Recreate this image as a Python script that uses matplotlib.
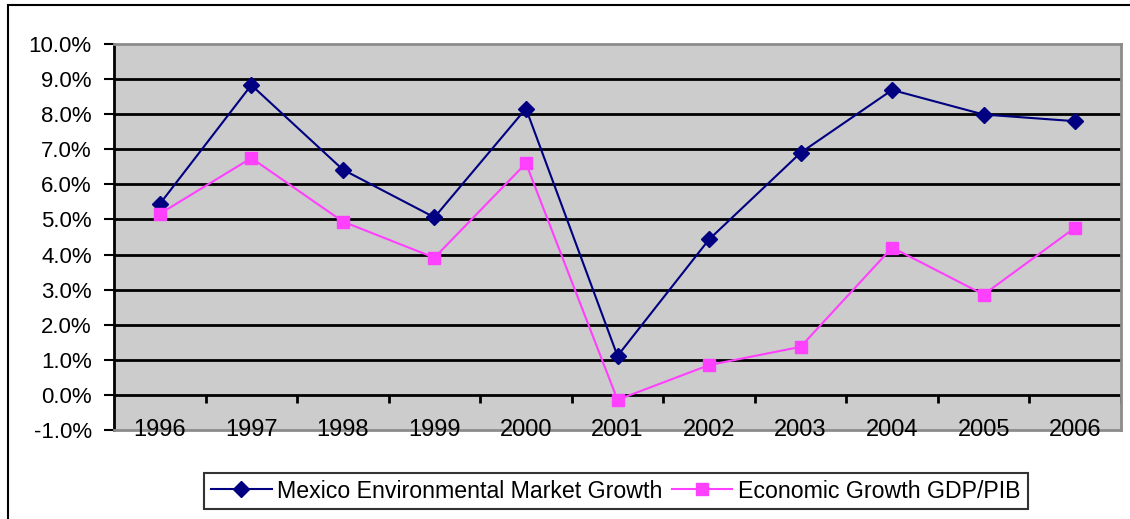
import matplotlib.pyplot as plt
from matplotlib.patches import Rectangle

plt.rcParams['font.family'] = ['Liberation Sans', 'DejaVu Sans']

years = ["1996", "1997", "1998", "1999", "2000", "2001",
         "2002", "2003", "2004", "2005", "2006"]
env_market = [5.44, 8.83, 6.42, 5.06, 8.16, 1.11, 4.43, 6.90, 8.69, 7.99, 7.80]
gdp_growth = [5.16, 6.75, 4.94, 3.91, 6.60, -0.14, 0.85, 1.37, 4.20, 2.86, 4.77]

fig = plt.figure(figsize=(11.3, 5.19), dpi=100)
fig.patches.append(Rectangle((8 / 1130, -0.1), 1.2, 1.1 - 5 / 519,
                             transform=fig.transFigure, fill=False,
                             edgecolor='black', linewidth=1.5))

ax = fig.add_axes([114 / 1130, 1 - 430 / 519, 1007 / 1130, 386 / 519])
ax.set_facecolor('#cccccc')

x = list(range(len(years)))
ax.set_xlim(-0.5, len(years) - 0.5)
ax.set_ylim(-1, 10)

# horizontal gridlines and the zero axis
for v in range(0, 10):
    ax.axhline(v, color='black', linewidth=2, zorder=1)

# category tick marks hanging under the zero line
bounds = [i + 0.5 for i in x[:-1]] + [len(years) - 0.5]
ax.vlines(bounds, -0.22, 0, color='black', linewidth=2, zorder=1)

ax.plot(x, env_market, color='#000080', marker='D', markersize=8,
        linewidth=1.5, label='Mexico Environmental Market Growth', zorder=3)
ax.plot(x, gdp_growth, color='#ff40ff', marker='s', markersize=9,
        linewidth=1.5, label='Economic Growth GDP/PIB', zorder=3)

for i, yr in enumerate(years):
    ax.text(i, -1, yr, ha='center', va='center', fontsize=17, zorder=4)

ax.set_xticks([])
ax.set_yticks(range(-1, 11))
ax.set_yticklabels([f"{v:.1f}%" for v in range(-1, 11)], fontsize=16)
ax.tick_params(axis='y', direction='out', length=7, width=1.5, pad=9)

for side in ['top', 'right', 'bottom']:
    ax.spines[side].set_color('#8c8c8c')
    ax.spines[side].set_linewidth(2)
ax.spines['left'].set_color('black')
ax.spines['left'].set_linewidth(2)

leg = fig.legend(loc='center', bbox_to_anchor=(616 / 1130, 1 - 491 / 519),
                 ncol=2, fontsize=16.7, frameon=True, fancybox=False,
                 edgecolor='black', handlelength=2.6, handletextpad=0.25,
                 columnspacing=0.4, borderpad=0.3)
leg.get_frame().set_linewidth(1.5)

fig.savefig('out.png', dpi=100)
